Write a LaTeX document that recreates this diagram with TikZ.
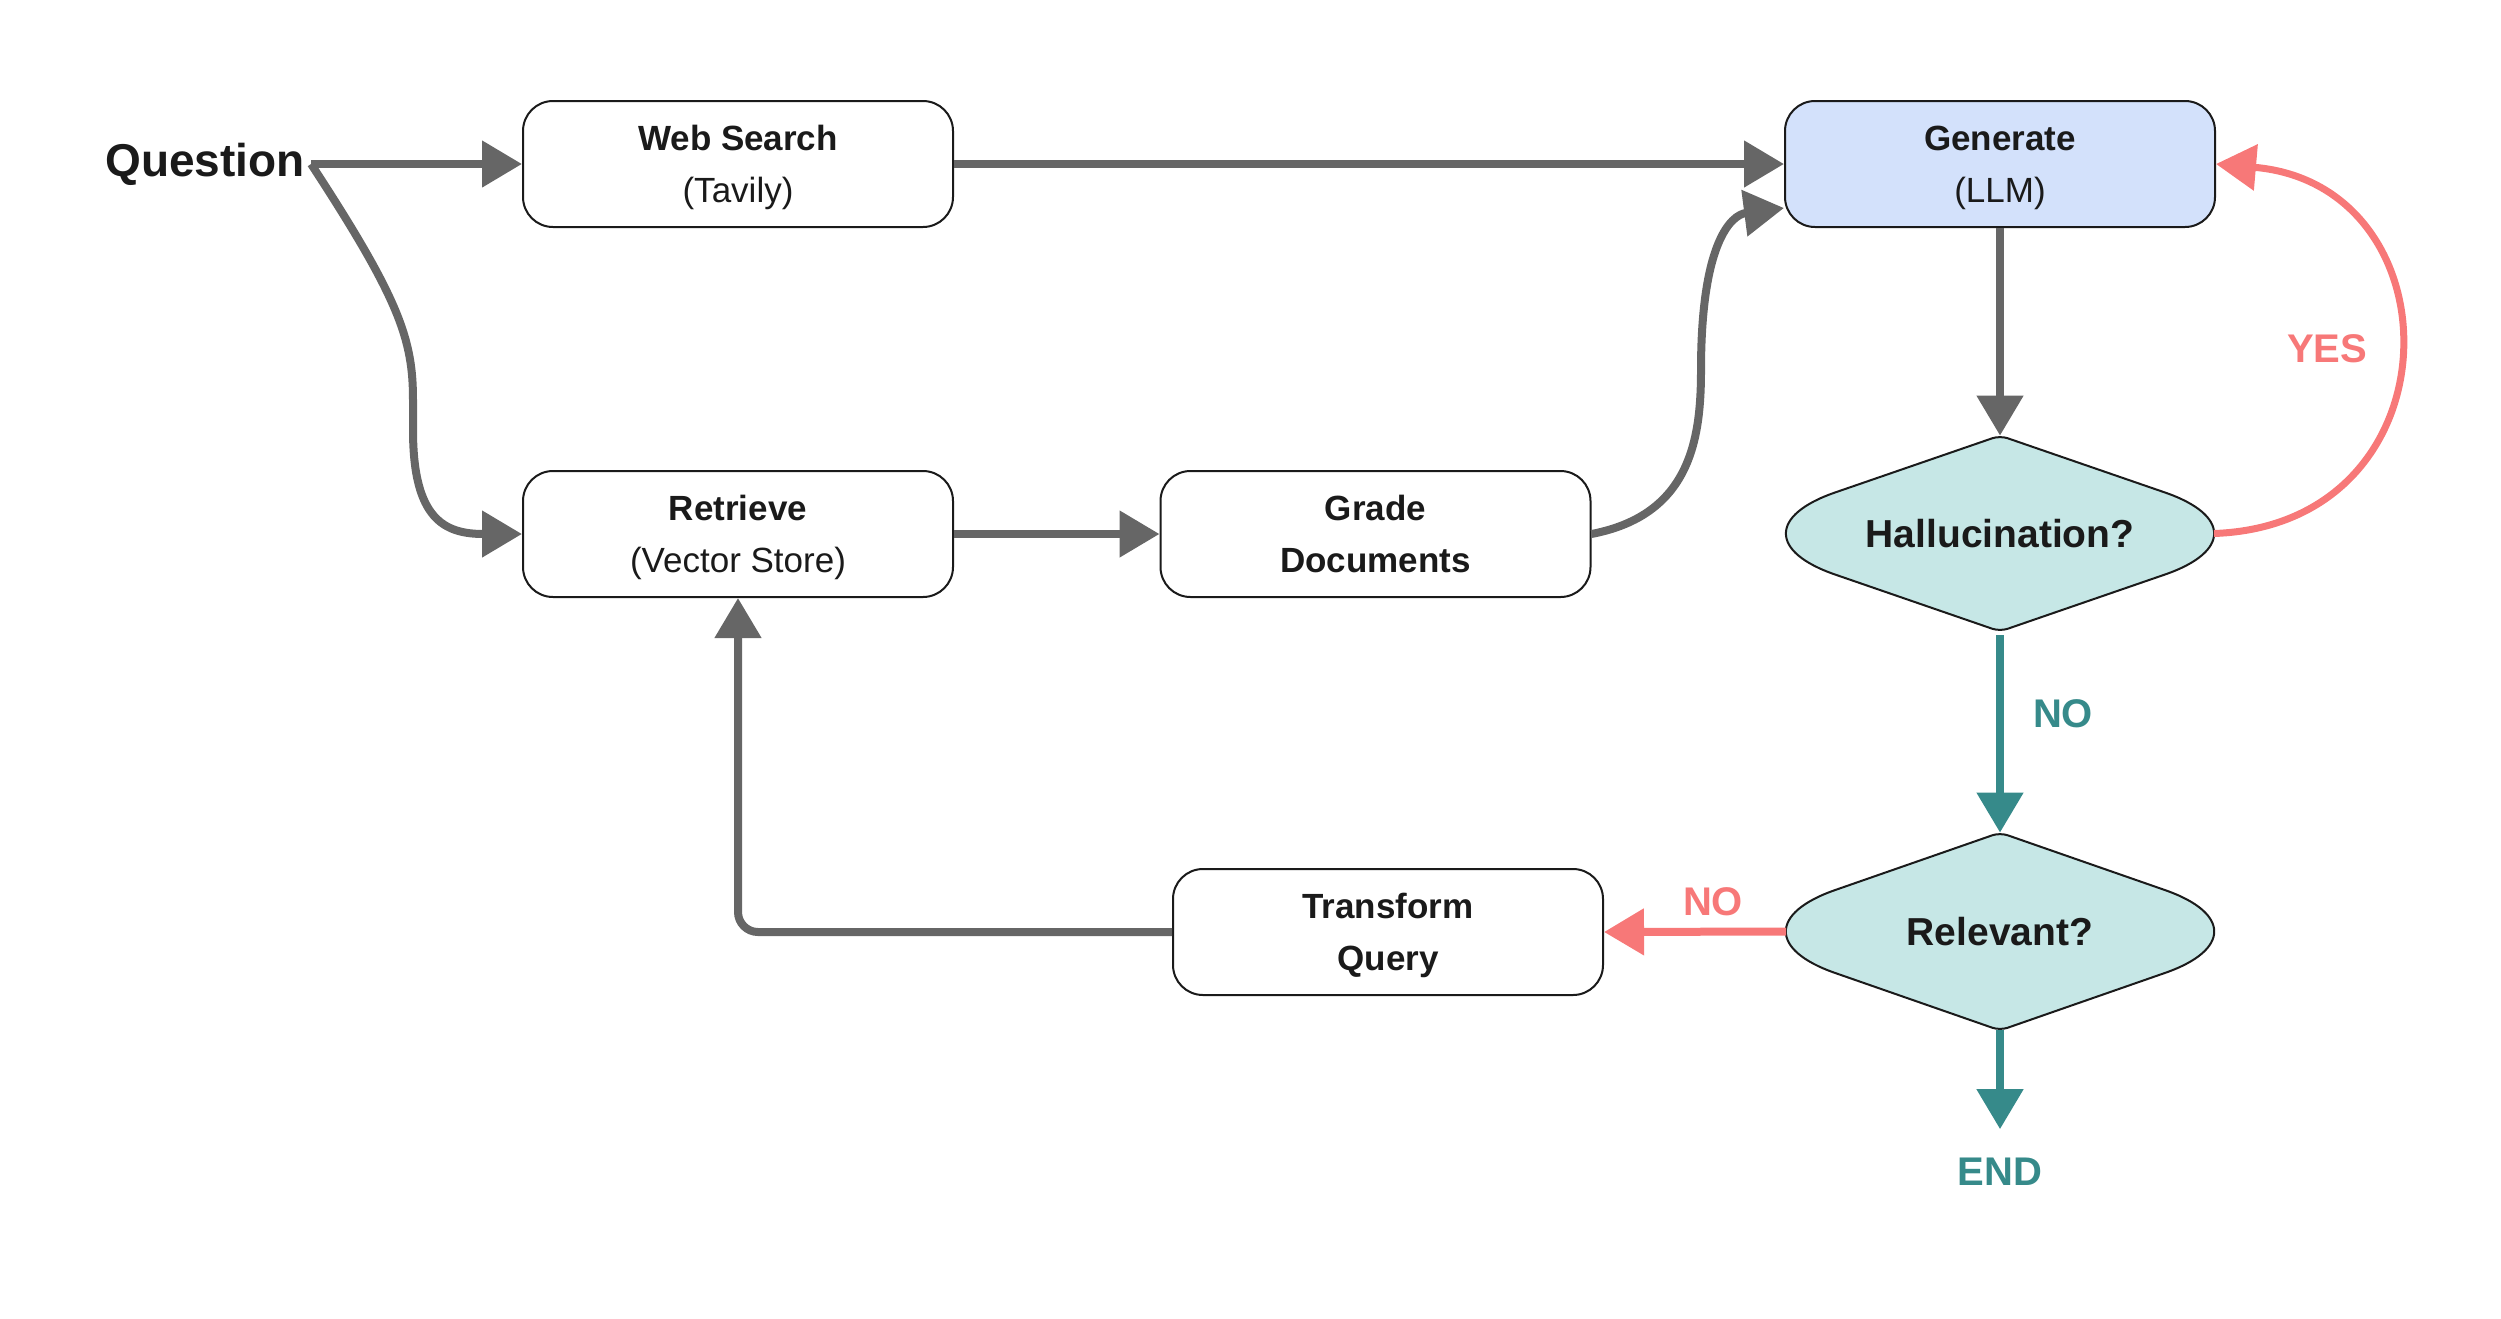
\documentclass[tikz,border=0pt]{standalone}
\usepackage{fontspec}
\setmainfont{Liberation Sans}
\usetikzlibrary{arrows.meta,backgrounds,calc}
\definecolor{flowgray}{HTML}{666666}
\definecolor{boxline}{HTML}{1A1A1A}
\definecolor{genfill}{HTML}{D3E1FB}
\definecolor{decfill}{HTML}{C6E7E6}
\definecolor{okteal}{HTML}{368A8A}
\definecolor{nored}{HTML}{F77878}
\tikzset{
  box/.style={draw=boxline, line width=1pt, rounded corners=15pt, fill=white, text=boxline,
    minimum width=215pt, minimum height=63pt, align=center, text depth=0pt,
    font=\fontsize{17.5}{26}\selectfont},
  dectext/.style={minimum width=213.5pt, minimum height=98pt, inner sep=0pt, text=boxline,
    font=\bfseries\fontsize{19.5}{22}\selectfont},
  decline/.style={draw=boxline, line width=1pt, fill=decfill},
  flow/.style={-{Triangle[length=20pt,width=22.5pt]}, line width=4pt, color=flowgray},
  tag/.style={font=\bfseries\fontsize{20}{24}\selectfont}
}
% rounded diamond drawn round a decision node
\newcommand{\decoutline}[1]{%
  \filldraw[decline] ($(#1.north)!0.5!([xshift=-35pt]#1.west)$)
    [rounded corners=4pt] -- (#1.north)
    [rounded corners=63pt] -- ([xshift=35pt]#1.east)
    [rounded corners=4pt] -- (#1.south)
    [rounded corners=63pt] -- ([xshift=-35pt]#1.west)
    [rounded corners=4pt] -- cycle;}
\begin{document}
\begin{tikzpicture}[x=0.5pt, y=-0.5pt]
\useasboundingbox (0,0) rectangle (2501,1318);
\node[font=\bfseries\fontsize{23}{28}\selectfont, text=boxline, inner sep=3pt] (q) at (205,164) {Question};
\node[box] (web) at (738,164) {\textbf{Web Search}\\(Tavily)};
\node[box] (ret) at (738,534) {\textbf{Retrieve}\\(Vector Store)};
\node[box] (grade) at (1375.5,534) {\textbf{Grade}\\\textbf{Documents}};
\node[box, fill=genfill] (gen) at (2000,164) {\textbf{Generate}\\(LLM)};
\node[box] (tq) at (1388,932) {\textbf{Transform}\\\textbf{Query}};
\node[dectext, minimum height=97.5pt] (hal) at (2000,533.5) {Hallucination?};
\node[dectext, minimum height=98.5pt] (rel) at (2000,931.5) {Relevant?};
\begin{scope}[on background layer]
\decoutline{hal}
\decoutline{rel}
\end{scope}
\node[tag, text=nored] (yes) at (2327,349) {YES};
\node[tag, text=okteal] (nohal) at (2063,714) {NO};
\node[tag, text=nored] (norel) at (1713,902) {NO};
\node[tag, text=okteal] (finish) at (2000,1172) {END};
% connectors
\draw[flow] (q.east) -- (web.west);
\draw[flow] (q.east) .. controls (400,300) and (413,340) .. (413,400) -- (413,430) .. controls (413,520) and (445,534) .. (ret.west);
\draw[flow] (web.east) -- (gen.west);
\draw[flow] (ret.east) -- (grade.west);
\draw[flow] (grade.east) .. controls (1690,515) and (1701,440) .. (1701,370) .. controls (1701,245) and (1730,215) .. ([yshift=-22pt]gen.west);
\draw[flow] (gen.south) -- (hal.north);
\draw[flow, color=nored, line width=3.5pt] (hal.east) .. controls (2460,525) and (2460,185) .. (gen.east);
\draw[flow, color=okteal, shorten <=2pt] (hal.south) -- (rel.north);
\draw[flow, color=nored] (rel.west) -- (tq.east);
\draw[flow, color=okteal] (rel.south) -- ([yshift=11pt]finish.north);
\draw[flow, rounded corners=10pt] (tq.west) -| (ret.south);
\end{tikzpicture}
\end{document}
